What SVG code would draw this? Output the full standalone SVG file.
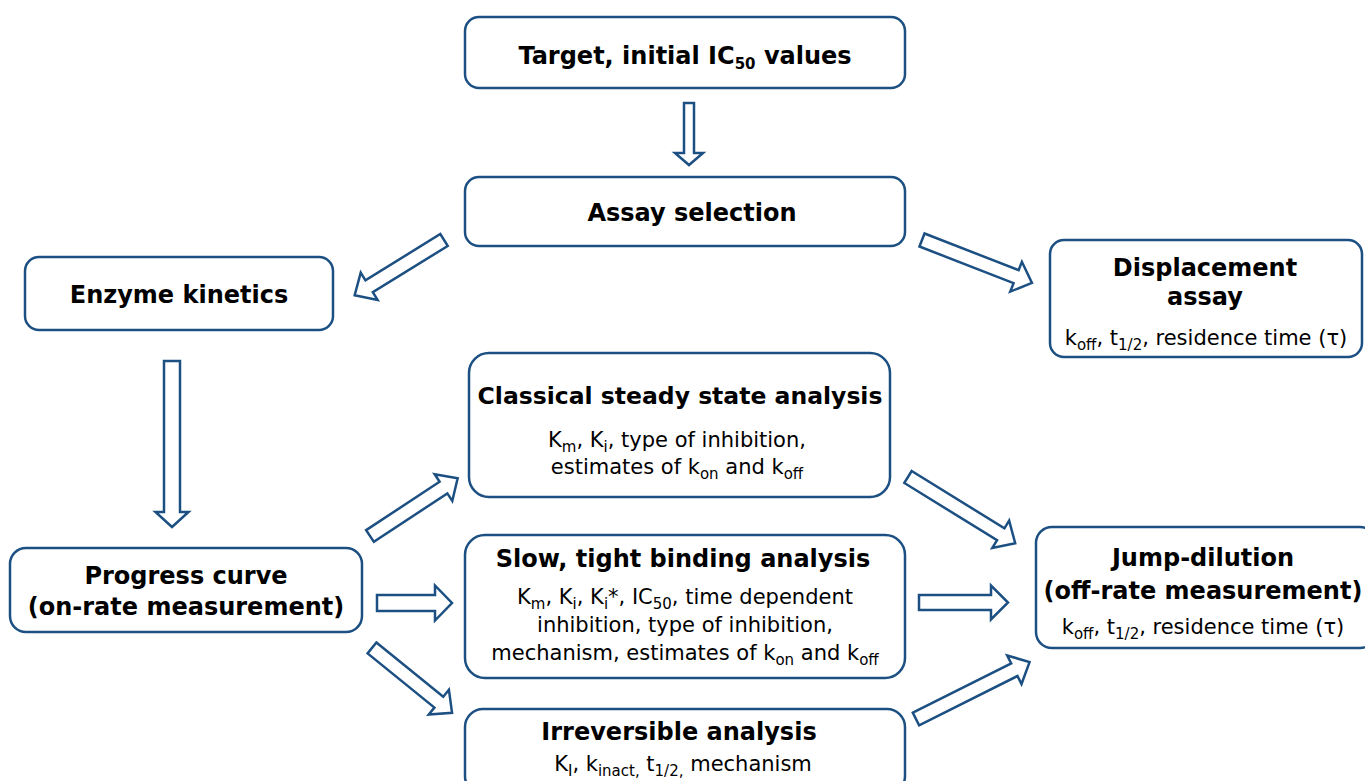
<svg xmlns="http://www.w3.org/2000/svg" width="1365" height="781" viewBox="0 0 1365 781">
<style>
.box{fill:#fff;stroke:#1c4f82;stroke-width:2.5}
.arr{fill:#fff;stroke:#1c4f82;stroke-width:2.5;stroke-linejoin:miter}
.t{font-family:"DejaVu Sans","Verdana",sans-serif;font-weight:bold;font-size:24px;fill:#000;text-anchor:middle}
.r{font-family:"DejaVu Sans","Verdana",sans-serif;font-size:21px;fill:#000;text-anchor:middle}
.s{font-size:15px}
</style>
<rect width="1365" height="781" fill="#fff"/>
<g id="connectors">
<path class="arr" transform="translate(689,103) rotate(90)" d="M0,-5 H50 V-14 L62,0 L50,14 V5 H0 Z"/>
<path class="arr" transform="translate(172,361) rotate(90)" d="M0,-8 H151 V-16.5 L166,0 L151,16.5 V8 H0 Z"/>
<path class="arr" transform="translate(444,240) rotate(148.3)" d="M0,-7 H88 V-16 L105,0 L88,16 V7 H0 Z"/>
<path class="arr" transform="translate(922,240) rotate(21.3)" d="M0,-7 H101 V-16 L118,0 L101,16 V7 H0 Z"/>
<path class="arr" transform="translate(370,536) rotate(-33.4)" d="M0,-7 H88 V-16 L105,0 L88,16 V7 H0 Z"/>
<path class="arr" transform="translate(377,603)" d="M0,-8 H58 V-17.5 L75,0 L58,17.5 V8 H0 Z"/>
<path class="arr" transform="translate(372,648) rotate(39)" d="M0,-7 H86 V-16 L103,0 L86,16 V7 H0 Z"/>
<path class="arr" transform="translate(908,477) rotate(31.7)" d="M0,-7 H109 V-16 L126,0 L109,16 V7 H0 Z"/>
<path class="arr" transform="translate(919,602.5)" d="M0,-7.5 H72 V-17 L89,0 L72,17 V7.5 H0 Z"/>
<path class="arr" transform="translate(916,719) rotate(-26.6)" d="M0,-7 H110 V-16 L127,0 L110,16 V7 H0 Z"/>
</g>
<g id="target">
<rect class="box" x="465" y="17" width="440" height="71" rx="14"/>
<text class="t" x="685" y="64">Target, initial IC<tspan class="s" dy="5">50</tspan><tspan dy="-5"> values</tspan></text>
</g>
<g id="assay">
<rect class="box" x="465" y="177" width="440" height="69" rx="14"/>
<text class="t" x="692" y="221">Assay selection</text>
</g>
<g id="enzyme">
<rect class="box" x="25" y="257" width="308" height="73" rx="14"/>
<text class="t" x="179" y="303">Enzyme kinetics</text>
</g>
<g id="displacement">
<rect class="box" x="1050" y="240" width="312" height="117" rx="14"/>
<text class="t" x="1205" y="276">Displacement</text>
<text class="t" x="1205" y="305">assay</text>
<text class="r" x="1206" y="345">k<tspan class="s" dy="5">off</tspan><tspan dy="-5">, t</tspan><tspan class="s" dy="5">1/2</tspan><tspan dy="-5">, residence time (τ)</tspan></text>
</g>
<g id="classical">
<rect class="box" x="469" y="353" width="421" height="144" rx="20"/>
<text class="t" x="680" y="404" style="font-size:23.5px">Classical steady state analysis</text>
<text class="r" x="677" y="447">K<tspan class="s" dy="5">m</tspan><tspan dy="-5">, K</tspan><tspan class="s" dy="5">i</tspan><tspan dy="-5">, type of inhibition,</tspan></text>
<text class="r" x="677" y="474">estimates of k<tspan class="s" dy="5">on</tspan><tspan dy="-5"> and k</tspan><tspan class="s" dy="5">off</tspan></text>
</g>
<g id="slow">
<rect class="box" x="465" y="535" width="440" height="143" rx="20"/>
<text class="t" x="683" y="567">Slow, tight binding analysis</text>
<text class="r" x="685" y="604">K<tspan class="s" dy="5">m</tspan><tspan dy="-5">, K</tspan><tspan class="s" dy="5">i</tspan><tspan dy="-5">, K</tspan><tspan class="s" dy="5">i</tspan><tspan dy="-5">*, IC</tspan><tspan class="s" dy="5">50</tspan><tspan dy="-5">, time dependent</tspan></text>
<text class="r" x="685" y="632">inhibition, type of inhibition,</text>
<text class="r" x="685" y="660">mechanism, estimates of k<tspan class="s" dy="5">on</tspan><tspan dy="-5"> and k</tspan><tspan class="s" dy="5">off</tspan></text>
</g>
<g id="irreversible">
<rect class="box" x="465" y="709" width="440" height="85" rx="18"/>
<text class="t" x="679" y="740">Irreversible analysis</text>
<text class="r" x="683" y="771">K<tspan class="s" dy="5">I</tspan><tspan dy="-5">, k</tspan><tspan class="s" dy="5">inact,</tspan><tspan dy="-5"> t</tspan><tspan class="s" dy="5">1/2,</tspan><tspan dy="-5"> mechanism</tspan></text>
</g>
<g id="jump">
<rect class="box" x="1036" y="527" width="340" height="121" rx="16"/>
<text class="t" x="1203" y="566">Jump-dilution</text>
<text class="t" x="1203" y="599">(off-rate measurement)</text>
<text class="r" x="1203" y="634">k<tspan class="s" dy="5">off</tspan><tspan dy="-5">, t</tspan><tspan class="s" dy="5">1/2</tspan><tspan dy="-5">, residence time (τ)</tspan></text>
</g>
<g id="progress">
<rect class="box" x="10" y="548" width="352" height="84" rx="16"/>
<text class="t" x="186" y="584">Progress curve</text>
<text class="t" x="186" y="615">(on-rate measurement)</text>
</g>
</svg>
